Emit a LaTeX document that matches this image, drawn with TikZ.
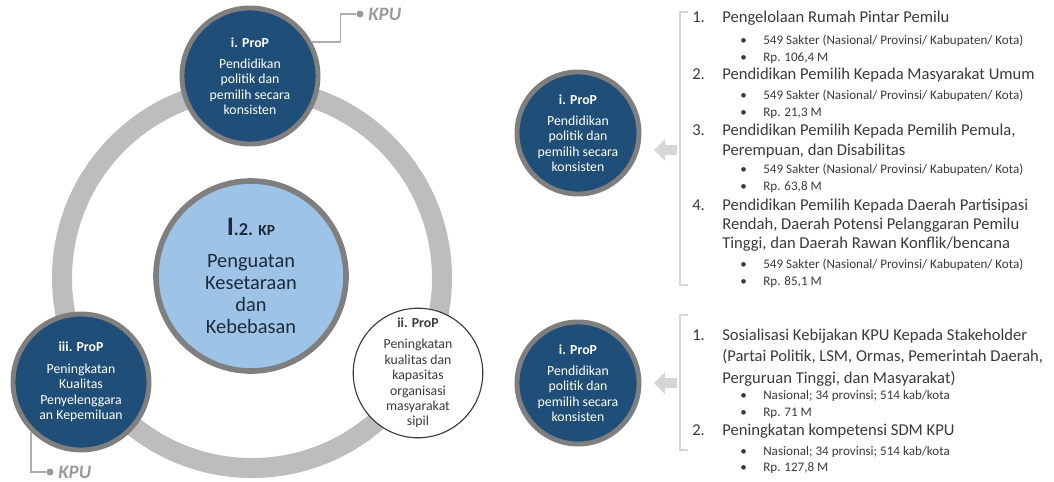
\documentclass[tikz,border=0pt]{standalone}
\usepackage{fontspec}
\setmainfont{Carlito}
\usetikzlibrary{positioning}

\definecolor{propblue}{HTML}{1F4E79}
\definecolor{rimgray}{HTML}{7F7F7F}
\definecolor{ringgray}{HTML}{BDBDBD}
\definecolor{coreblue}{HTML}{9DC3E6}
\definecolor{bracketgray}{HTML}{D6D6D6}
\definecolor{kpugray}{HTML}{999999}
\definecolor{textgray}{HTML}{3A3A3A}
\definecolor{coretext}{HTML}{1E2A3C}

\begin{document}
\begin{tikzpicture}[x=0.025cm,y=-0.025cm,
    prop/.style={circle,draw=rimgray,line width=3.5pt,fill=propblue,text=white,
        minimum size=3.4cm,inner sep=0pt,align=center,font=\fontsize{9.8}{11}\selectfont},
    core/.style={circle,draw=rimgray,line width=4pt,fill=coreblue,text=coretext,
        minimum size=4.75cm,inner sep=0pt,align=center,font=\fontsize{14.5}{15.6}\selectfont},
    civil/.style={circle,draw=textgray,line width=0.8pt,fill=white,text=textgray,
        minimum size=3.2cm,inner sep=0pt,align=center,font=\fontsize{9.8}{11}\selectfont},
    ring/.style={draw=ringgray,line width=0.5cm},
    kpuline/.style={draw=kpugray!80,line width=1.1pt},
    kpudot/.style={circle,fill=kpugray,inner sep=0pt,minimum size=5pt},
    kpu/.style={text=kpugray,inner sep=1pt,font=\fontsize{13.5}{14}\selectfont\itshape\bfseries},
    bracket/.style={draw=bracketgray,line width=1.6pt},
    backarrow/.style={fill=bracketgray},
    num/.style={anchor=mid west,inner sep=0pt,text=textgray,font=\fontsize{11.8}{14}\selectfont},
    item/.style={num},
    dot/.style={anchor=mid west,inner sep=0pt,text=textgray,font=\fontsize{9.3}{11}\selectfont},
    sub/.style={dot}]

    \useasboundingbox (0,0) rectangle (1054,481);

    % wheel
    \draw[ring] (252,278) circle (190);

    \node[core] (core) at (251,276) {{\bfseries\fontsize{19}{16}\selectfont I\fontsize{13}{16}\selectfont.2. \fontsize{11}{16}\selectfont KP}\\[7pt]
        Penguatan\\Kesetaraan\\dan\\Kebebasan};
    \node[prop] (top) at (250,76) {\textbf{i. ProP}\\[4pt]Pendidikan\\politik dan\\pemilih secara\\konsisten};
    \node[prop] (left) at (81,382) {\textbf{iii. ProP}\\[4pt]Peningkatan\\Kualitas\\Penyelenggara\\an Kepemiluan};
    \node[civil] (right) at (418,373) {\textbf{ii. ProP}\\[4pt]Peningkatan\\kualitas dan\\kapasitas\\organisasi\\masyarakat\\sipil};

    % KPU tags
    \node[kpudot] (dot1) at (360,14) {};
    \node[kpu,right=2pt of dot1] (kpu1) {KPU};
    \draw[kpuline] (top.29) -- ++(29,0) |- (dot1);
    \node[kpudot] (dot2) at (50,472) {};
    \node[kpu,right=2pt of dot2] (kpu2) {KPU};
    \draw[kpuline] (left.-135) |- (dot2);

    % right column
    \node[prop,minimum size=3.05cm] (prop1) at (578,133) {\textbf{i. ProP}\\[4pt]Pendidikan\\politik dan\\pemilih secara\\konsisten};
    \node[prop,minimum size=3.05cm] (prop2) at (578,383) {\textbf{i. ProP}\\[4pt]Pendidikan\\politik dan\\pemilih secara\\konsisten};
    \coordinate (arr1) at (654,150);
    \coordinate (arr2) at (654,383);
    \fill[backarrow] (arr1) -- ++(11,-11) -- ++(0,6) -- ++(12,0) -- ++(0,10) -- ++(-12,0) -- ++(0,6) -- cycle;
    \fill[backarrow] (arr2) -- ++(11,-11) -- ++(0,6) -- ++(12,0) -- ++(0,10) -- ++(-12,0) -- ++(0,6) -- cycle;
    \draw[bracket] (688,12) -- (680,12) -- (680,285) -- (688,285);
    \draw[bracket] (688,315) -- (680,315) -- (680,450) -- (688,450);

    % first list
    \node[num] (a1) at (692,19) {1.};
    \node[item] (a1t) at (722,19) {Pengelolaan Rumah Pintar Pemilu};
    \node[dot] (a1b1) at (740,41) {\textbullet};
    \node[sub] (a1s1) at (763,41) {549 Sakter (Nasional/ Provinsi/ Kabupaten/ Kota)};
    \node[dot] (a1b2) at (740,58) {\textbullet};
    \node[sub] (a1s2) at (763,58) {Rp. 106,4 M};
    \node[num] (a2) at (692,76) {2.};
    \node[item] (a2t) at (722,76) {Pendidikan Pemilih Kepada Masyarakat Umum};
    \node[dot] (a2b1) at (740,96) {\textbullet};
    \node[sub] (a2s1) at (763,96) {549 Sakter (Nasional/ Provinsi/ Kabupaten/ Kota)};
    \node[dot] (a2b2) at (740,113) {\textbullet};
    \node[sub] (a2s2) at (763,113) {Rp. 21,3 M};
    \node[num] (a3) at (692,132) {3.};
    \node[item] (a3t) at (722,132) {Pendidikan Pemilih Kepada Pemilih Pemula,};
    \node[item] (a3u) at (722,152) {Perempuan, dan Disabilitas};
    \node[dot] (a3b1) at (740,170) {\textbullet};
    \node[sub] (a3s1) at (763,170) {549 Sakter (Nasional/ Provinsi/ Kabupaten/ Kota)};
    \node[dot] (a3b2) at (740,187) {\textbullet};
    \node[sub] (a3s2) at (763,187) {Rp. 63,8 M};
    \node[num] (a4) at (692,207) {4.};
    \node[item] (a4t) at (722,207) {Pendidikan Pemilih Kepada Daerah Partisipasi};
    \node[item] (a4u) at (722,226) {Rendah, Daerah Potensi Pelanggaran Pemilu};
    \node[item] (a4v) at (722,245) {Tinggi, dan Daerah Rawan Konflik/bencana};
    \node[dot] (a4b1) at (740,265) {\textbullet};
    \node[sub] (a4s1) at (763,265) {549 Sakter (Nasional/ Provinsi/ Kabupaten/ Kota)};
    \node[dot] (a4b2) at (740,282) {\textbullet};
    \node[sub] (a4s2) at (763,282) {Rp. 85,1 M};

    % second list
    \node[num] (b1) at (692,337) {1.};
    \node[item] (b1t) at (722,337) {Sosialisasi Kebijakan KPU Kepada Stakeholder};
    \node[item] (b1u) at (722,358) {(Partai Politik, LSM, Ormas, Pemerintah Daerah,};
    \node[item] (b1v) at (722,380) {Perguruan Tinggi, dan Masyarakat)};
    \node[dot] (b1b1) at (740,396) {\textbullet};
    \node[sub] (b1s1) at (763,396) {Nasional; 34 provinsi; 514 kab/kota};
    \node[dot] (b1b2) at (740,413) {\textbullet};
    \node[sub] (b1s2) at (763,413) {Rp. 71 M};
    \node[num] (b2) at (692,432) {2.};
    \node[item] (b2t) at (722,432) {Peningkatan kompetensi SDM KPU};
    \node[dot] (b2b1) at (740,452) {\textbullet};
    \node[sub] (b2s1) at (763,452) {Nasional; 34 provinsi; 514 kab/kota};
    \node[dot] (b2b2) at (740,468) {\textbullet};
    \node[sub] (b2s2) at (763,468) {Rp. 127,8 M};

\end{tikzpicture}
\end{document}
